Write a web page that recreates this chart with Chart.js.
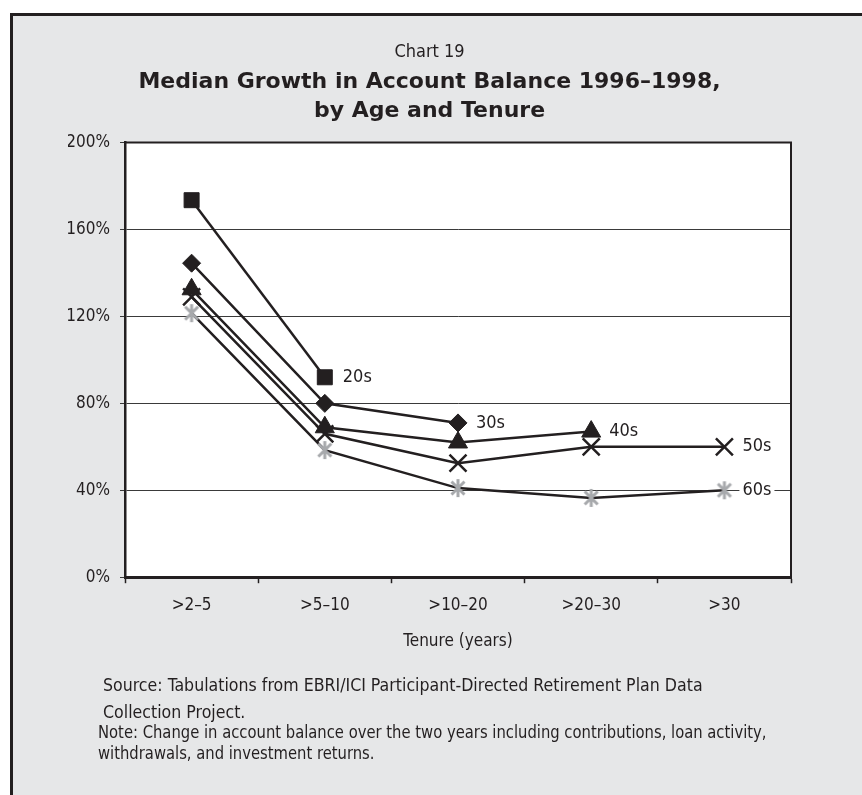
<!DOCTYPE html>
<html>
<head>
<meta charset="utf-8">
<script src="https://cdn.jsdelivr.net/npm/chart.js@4.4.1/dist/chart.umd.min.js"></script>
<style>
    html, body { margin: 0; padding: 0; background: #ffffff; overflow: hidden; }
    #frame {
        position: absolute; left: 10px; top: 13px; width: 900px; height: 850px;
        background: #e6e7e8; border: 3px solid #231f20;
    }
    #grafico { position: absolute; left: 0; top: 0; }
    .nota {
        position: absolute; color: #231f20; white-space: nowrap;
        font-family: 'Liberation Sans Narrow', 'Arial Narrow', 'DejaVu Sans Condensed', sans-serif;
        font-size: 18px; transform-origin: 0 0;
    }
</style>
</head>
<body>
<div id="frame"></div>
<canvas id="grafico" width="862" height="795"></canvas>
<div class="nota" style="left:103px; top:671px; line-height:27px; transform:scaleX(0.977);">Source: Tabulations from EBRI/ICI Participant-Directed Retirement Plan Data<br>Collection Project.</div>
<div class="nota" style="left:98px; top:721px; line-height:21px; transform:scaleX(0.913);">Note: Change in account balance over the two years including contributions, loan activity,<br>withdrawals, and investment returns.</div>
<script>
const FONTE_ESTREITA = "'Liberation Sans Narrow', 'Arial Narrow', 'DejaVu Sans Condensed', sans-serif";
const TINTA = '#231f20';

// dados (% de crescimento mediano)
const faixasTempo = ['>2–5', '>5–10', '>10–20', '>20–30', '>30'];
const idade20 = [173.5, 92, null, null, null];
const idade30 = [144.5, 80, 71, null, null];
const idade40 = [132.5, 69, 62, 67, null];
const idade50 = [129, 66, 52.5, 60, 60];
const idade60 = [121.5, 58.5, 41, 36.5, 40];
const rotulosIdade = ['20s', '30s', '40s', '50s', '60s'];
const ticksY = [0, 40, 80, 120, 160, 200];

// marcador asterisco (vertical + X), cinza
function criaAsterisco() {
    const c = document.createElement('canvas');
    c.width = 20; c.height = 20;
    const g = c.getContext('2d');
    g.strokeStyle = '#a7a9ac';
    g.lineWidth = 3;
    g.beginPath();
    g.moveTo(10, 1); g.lineTo(10, 19);
    g.moveTo(3.5, 3.5); g.lineTo(16.5, 16.5);
    g.moveTo(16.5, 3.5); g.lineTo(3.5, 16.5);
    g.stroke();
    return c;
}

// fundo branco e borda da área do gráfico
const areaBranca = {
    id: 'areaBranca',
    beforeDraw(chart) {
        const { ctx, chartArea: a } = chart;
        ctx.save();
        ctx.fillStyle = '#ffffff';
        ctx.fillRect(a.left, a.top, a.right - a.left, a.bottom - a.top);
        ctx.restore();
    },
    afterDraw(chart) {
        const { ctx, chartArea: a } = chart;
        ctx.save();
        ctx.strokeStyle = TINTA;
        ctx.lineWidth = 2;
        ctx.beginPath();
        ctx.moveTo(a.left, a.top);
        ctx.lineTo(a.right, a.top);
        ctx.lineTo(a.right, a.bottom);
        ctx.stroke();
        ctx.restore();
    }
};

// rótulo com o nome da série ao lado do último ponto
const rotuloFinal = {
    id: 'rotuloFinal',
    afterDatasetsDraw(chart) {
        const ctx = chart.ctx;
        ctx.save();
        ctx.font = '18px ' + FONTE_ESTREITA;
        ctx.textBaseline = 'middle';
        chart.data.datasets.forEach((ds, i) => {
            let ultimo = -1;
            ds.data.forEach((v, j) => { if (v !== null) ultimo = j; });
            if (ultimo < 0) return;
            const p = chart.getDatasetMeta(i).data[ultimo];
            const x = p.x + 18;
            const w = ctx.measureText(ds.label).width;
            ctx.fillStyle = '#ffffff';
            ctx.fillRect(x - 3, p.y - 10, w + 6, 20);
            ctx.fillStyle = TINTA;
            ctx.fillText(ds.label, x, p.y);
        });
        ctx.restore();
    }
};

const divGrafico = document.getElementById('grafico').getContext('2d');

const serieBase = {
    borderColor: TINTA,
    borderWidth: 2.5,
    pointBackgroundColor: TINTA,
    pointBorderColor: TINTA,
    pointBorderWidth: 1,
    tension: 0,
};

const grafico = new Chart(divGrafico, {
    type: 'line',
    data: {
        labels: faixasTempo,
        datasets: [
            { ...serieBase, label: rotulosIdade[0], data: idade20, pointStyle: 'rect', pointRadius: 10.6 },
            { ...serieBase, label: rotulosIdade[1], data: idade30, pointStyle: 'rectRot', pointRadius: 9 },
            { ...serieBase, label: rotulosIdade[2], data: idade40, pointStyle: 'triangle', pointRadius: 11 },
            { ...serieBase, label: rotulosIdade[3], data: idade50, pointStyle: 'crossRot', pointRadius: 12, pointBorderWidth: 2.5 },
            { ...serieBase, label: rotulosIdade[4], data: idade60, pointStyle: criaAsterisco() },
        ]
    },
    options: {
        responsive: false,
        animation: false,
        layout: {
            padding: { left: 68, right: 71, top: 42, bottom: 143 }
        },
        plugins: {
            legend: { display: false },
            tooltip: { enabled: false },
            title: {
                display: true,
                text: 'Chart 19',
                color: TINTA,
                font: { family: FONTE_ESTREITA, size: 18, weight: 'normal', lineHeight: 1.2 },
                padding: { top: 0, bottom: 0 },
            },
            subtitle: {
                display: true,
                text: ['Median Growth in Account Balance 1996–1998,', 'by Age and Tenure'],
                color: TINTA,
                font: { family: "'DejaVu Sans', sans-serif", size: 22, weight: 'bold', lineHeight: '29px' },
                padding: { top: 4, bottom: 17 },
            }
        },
        scales: {
            x: {
                offset: true,
                grid: { drawOnChartArea: false, offset: true, tickLength: 6, color: TINTA, tickWidth: 1.5 },
                border: { color: TINTA, width: 3 },
                ticks: { color: TINTA, padding: 12, maxRotation: 0, font: { family: FONTE_ESTREITA, size: 17 } },
                title: {
                    display: true,
                    text: 'Tenure (years)',
                    color: TINTA,
                    font: { family: FONTE_ESTREITA, size: 17 },
                    padding: { top: 4, bottom: 0 },
                }
            },
            y: {
                min: ticksY[0],
                max: ticksY[ticksY.length - 1],
                afterBuildTicks: (eixo) => { eixo.ticks = ticksY.map(v => ({ value: v })); },
                afterFit: (eixo) => { eixo.width = 57; },
                grid: { color: '#3a3a3a', lineWidth: 1, tickLength: 5 },
                border: { color: TINTA, width: 2.5 },
                ticks: {
                    color: TINTA,
                    padding: 10,
                    font: { family: FONTE_ESTREITA, size: 17 },
                    callback: (v) => v + '%',
                }
            }
        }
    },
    plugins: [areaBranca, rotuloFinal]
});
</script>
</body>
</html>
